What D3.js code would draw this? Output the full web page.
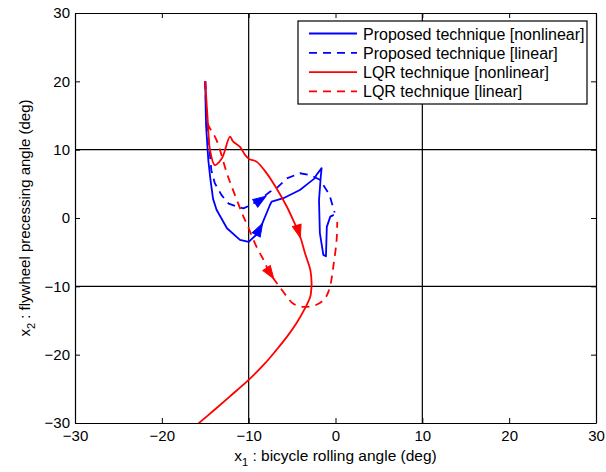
<!DOCTYPE html>
<html>
<head>
<meta charset="utf-8">
<script src="https://cdn.jsdelivr.net/npm/d3@7"></script>
<style>
  body { margin: 0; background: #fff; }
  svg text { font-family: "Liberation Sans", Arial, sans-serif; }
</style>
</head>
<body>
<div id="chart"></div>
<script>
// axis ticks and grid
const xTicks = [-30, -20, -10, 0, 10, 20, 30];
const yTicks = [-30, -20, -10, 0, 10, 20, 30];
const xGrid = [-10, 10];
const yGrid = [-10, 10];

// trajectories [x1, x2] in deg
const proposedNonlinear = [
    [-15, 20], [-14.95, 16], [-14.9, 13.4], [-14.65, 8.5], [-14.4, 5.6], [-14.1, 2.8],
    [-13.7, 1.2], [-12.5, -1.5], [-11, -3.2], [-10, -3.5], [-8.9, -2.2], [-8.5, -1.0],
    [-7.55, 1.9], [-7.35, 2.4], [-6.0, 2.9], [-5.2, 3.4], [-4.1, 4.1], [-3.1, 5.1],
    [-2.4, 5.8], [-2.2, 6.3], [-1.6, 7.3], [-1.7, 6.0], [-1.9, 2.6], [-1.8, -2.2],
    [-1.4, -5.4], [-1.1, -5.6], [-1.0, -1.3], [-0.6, 0.2], [-0.2, 0.45]
];
const proposedLinear = [
    [-15, 20], [-14.8, 14], [-14.3, 7.0], [-13.9, 5.1], [-13.1, 3.3], [-12.3, 2.1],
    [-11.2, 1.6], [-10.6, 1.4], [-9.6, 2.0], [-8.5, 2.9], [-7.55, 3.85], [-6.8, 4.35],
    [-5.6, 5.8], [-4.1, 6.55], [-2.9, 6.3], [-1.8, 5.6], [-0.7, 3.4], [-0.1, 0.8]
];
const lqrNonlinear = [
    [-15, 20], [-14.7, 14], [-14.45, 9.95], [-13.9, 7.75], [-13.1, 8.7], [-12.15, 11.9],
    [-11.8, 11.2], [-11, 10.4], [-10.4, 9.2], [-9.9, 8.6], [-9.1, 8.25], [-7.9, 6.5],
    [-6.8, 4.35], [-5.6, 1.65], [-4.7, -0.8], [-4.1, -2.6], [-3.5, -5.2], [-2.9, -7.6],
    [-2.75, -9.6], [-2.8, -10.6], [-2.9, -11.5], [-3.5, -13.2], [-4.5, -15.4], [-5.6, -17.4],
    [-6.8, -19.3], [-8.1, -21.25], [-10, -23.7], [-12.15, -26.1], [-14.1, -28.25],
    [-16, -30.3], [-17, -31.35]
];
const lqrLinear = [
    [-15, 20], [-14.8, 14.3], [-14.65, 13.6], [-13.7, 11.4], [-12.5, 6.5], [-11.95, 4.6],
    [-11.2, 2.1], [-10.6, 0.2], [-10, -1.5], [-9.1, -4.2], [-8.3, -6.1], [-7.55, -8.1],
    [-6.6, -9.8], [-5.6, -11.5], [-4.9, -12.5], [-3.7, -13.0], [-2.2, -12.7], [-1.2, -11.75],
    [-0.63, -10], [-0.25, -7.1], [0.13, -3.2], [0.2, -0.6]
];

// arrow heads: [tailX, tailY, tipX, tipY]
const proposedNonlinearArrow = [-9.1, -2.4, -8.4, -0.8];
const proposedLinearArrow = [-9.4, 2.0, -8.0, 3.2];
const lqrNonlinearArrow = [-4.5, -0.9, -4.05, -2.9];
const lqrLinearArrow = [-7.9, -7.4, -7.1, -8.9];

const seriesNames = [
    "Proposed technique [nonlinear]",
    "Proposed technique [linear]",
    "LQR technique [nonlinear]",
    "LQR technique [linear]"
];
const seriesColors = ["#0000ff", "#0000ff", "#ff0000", "#ff0000"];
const seriesDash = [null, "8,6", null, "8,6"];

const svgWidth = 606, svgHeight = 472;
const plotLeft = 75, plotRight = 596, plotTop = 13, plotBottom = 423;

const svg = d3.select("#chart").append("svg")
    .attr("width", svgWidth)
    .attr("height", svgHeight);

const x = d3.scaleLinear().domain([-30, 30]).range([plotLeft, plotRight]);
const y = d3.scaleLinear().domain([-30, 30]).range([plotBottom, plotTop]);

svg.append("defs").append("clipPath").attr("id", "plotClip")
    .append("rect")
    .attr("x", plotLeft).attr("y", plotTop)
    .attr("width", plotRight - plotLeft).attr("height", plotBottom - plotTop);

// grid lines
const grid = svg.append("g").attr("stroke", "#000").attr("stroke-width", 1.2);
grid.selectAll(".gx").data(xGrid).enter().append("line")
    .attr("x1", d => x(d)).attr("x2", d => x(d))
    .attr("y1", plotTop).attr("y2", plotBottom);
grid.selectAll(".gy").data(yGrid).enter().append("line")
    .attr("y1", d => y(d)).attr("y2", d => y(d))
    .attr("x1", plotLeft).attr("x2", plotRight);

// axes with inner ticks on all sides
const tickLen = 5;
const fmt = d => d < 0 ? "\u2212" + Math.abs(d) : d;
const xAxisBottom = svg.append("g")
    .attr("transform", `translate(0, ${plotBottom})`)
    .call(d3.axisBottom(x).tickValues(xTicks).tickSizeInner(-tickLen).tickSizeOuter(0).tickPadding(7).tickFormat(fmt));
const xAxisTop = svg.append("g")
    .attr("transform", `translate(0, ${plotTop})`)
    .call(d3.axisTop(x).tickValues(xTicks).tickSizeInner(-tickLen).tickSizeOuter(0).tickFormat(""));
const yAxisLeft = svg.append("g")
    .attr("transform", `translate(${plotLeft}, 0)`)
    .call(d3.axisLeft(y).tickValues(yTicks).tickSizeInner(-tickLen).tickSizeOuter(0).tickPadding(5).tickFormat(fmt));
const yAxisRight = svg.append("g")
    .attr("transform", `translate(${plotRight}, 0)`)
    .call(d3.axisRight(y).tickValues(yTicks).tickSizeInner(-tickLen).tickSizeOuter(0).tickFormat(""));

[xAxisBottom, xAxisTop, yAxisLeft, yAxisRight].forEach(g => {
    g.selectAll("path").attr("stroke", "#000").attr("stroke-width", 1.2);
    g.selectAll("line").attr("stroke", "#000").attr("stroke-width", 1);
    g.selectAll("text").attr("fill", "#000").attr("font-size", "15px")
        .attr("font-family", "Liberation Sans, Arial, sans-serif");
});

// curves: blue kept jagged, red ones smoothed
const sharpLine = d3.line().x(d => x(d[0])).y(d => y(d[1]));
const smoothLine = d3.line().x(d => x(d[0])).y(d => y(d[1])).curve(d3.curveCatmullRom.alpha(0.5));
const allSeries = [proposedNonlinear, proposedLinear, lqrNonlinear, lqrLinear];
const allLines = [sharpLine, sharpLine, smoothLine, smoothLine];
const allArrows = [proposedNonlinearArrow, proposedLinearArrow, lqrNonlinearArrow, lqrLinearArrow];

const curves = svg.append("g").attr("clip-path", "url(#plotClip)");
// dashed first, solid on top
[1, 3, 0, 2].forEach(i => {
    curves.append("path")
        .datum(allSeries[i])
        .attr("d", allLines[i])
        .attr("fill", "none")
        .attr("stroke", seriesColors[i])
        .attr("stroke-width", 1.8)
        .attr("stroke-linejoin", "round")
        .attr("stroke-dasharray", seriesDash[i]);
});

// arrow heads
allArrows.forEach((a, i) => {
    const x0 = x(a[0]), y0 = y(a[1]), x1 = x(a[2]), y1 = y(a[3]);
    const ang = Math.atan2(y1 - y0, x1 - x0) * 180 / Math.PI;
    svg.append("path")
        .attr("d", "M0,0 L-13,-4.5 L-13,4.5 Z")
        .attr("transform", `translate(${x1},${y1}) rotate(${ang})`)
        .attr("fill", seriesColors[i])
        .attr("stroke", seriesColors[i])
        .attr("stroke-width", 1);
});

// legend
const legend = svg.append("g");
legend.append("rect")
    .attr("x", 298).attr("y", 21)
    .attr("width", 289).attr("height", 83)
    .attr("fill", "#fff").attr("stroke", "#000").attr("stroke-width", 1.2);
seriesNames.forEach((name, i) => {
    const ly = 33.5 + i * 19.3;
    legend.append("line")
        .attr("x1", 309).attr("x2", 357)
        .attr("y1", ly).attr("y2", ly)
        .attr("stroke", seriesColors[i])
        .attr("stroke-width", 1.8)
        .attr("stroke-dasharray", seriesDash[i]);
    legend.append("text")
        .attr("x", 363).attr("y", ly + 6)
        .attr("font-size", "16px")
        .attr("fill", "#000")
        .text(name);
});

// axis labels
const xLabel = svg.append("text")
    .attr("x", (plotLeft + plotRight) / 2).attr("y", 461)
    .attr("text-anchor", "middle")
    .attr("font-size", "15.5px");
xLabel.append("tspan").text("x");
xLabel.append("tspan").attr("font-size", "11px").attr("dy", 5).text("1");
xLabel.append("tspan").attr("dy", -5).text(" : bicycle rolling angle (deg)");

const yLabel = svg.append("text")
    .attr("transform", `translate(30, ${(plotTop + plotBottom) / 2}) rotate(-90)`)
    .attr("text-anchor", "middle")
    .attr("font-size", "15px");
yLabel.append("tspan").text("x");
yLabel.append("tspan").attr("font-size", "11px").attr("dy", 5).text("2");
yLabel.append("tspan").attr("dy", -5).text(" : flywheel precessing angle (deg)");
</script>
</body>
</html>
